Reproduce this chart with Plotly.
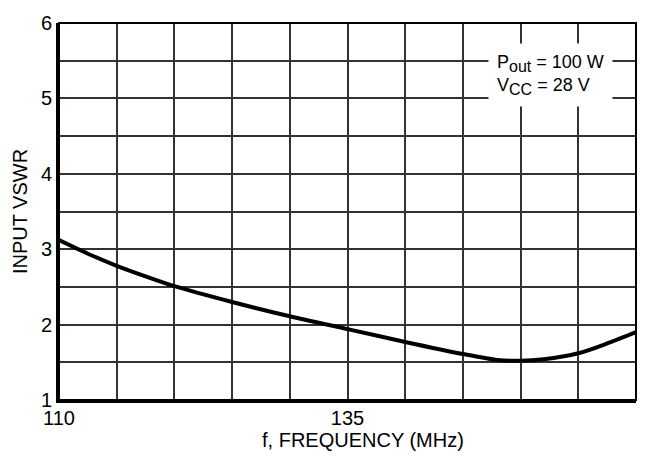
import plotly.graph_objects as go

# Data
freq_mhz = [110, 112.5, 115, 117.5, 120, 125, 130, 135, 140, 145, 148, 150, 152, 155, 157.5, 160]
input_vswr = [3.12, 2.94, 2.78, 2.64, 2.51, 2.30, 2.11, 1.94, 1.77, 1.61, 1.53, 1.52, 1.54, 1.62, 1.75, 1.90]

x_tickvals = [110, 115, 120, 125, 130, 135, 140, 145, 150, 155, 160]
x_ticktext = ["110", "", "", "", "", "135", "", "", "", "", "160"]
y_tickvals = [1, 1.5, 2, 2.5, 3, 3.5, 4, 4.5, 5, 5.5, 6]
y_ticktext = ["1", "", "2", "", "3", "", "4", "", "5", "", "6"]

FONT = "Liberation Sans, Arial, sans-serif"
FS = 20

fig = go.Figure()
fig.add_trace(go.Scatter(
    x=freq_mhz, y=input_vswr, mode="lines",
    line=dict(color="black", width=4, shape="spline", smoothing=0.8),
    hoverinfo="skip", showlegend=False,
))

fig.update_layout(
    width=650, height=460,
    margin=dict(l=59, r=14, t=15, b=60),
    paper_bgcolor="white", plot_bgcolor="white",
    font=dict(family=FONT, size=FS, color="black"),
    xaxis=dict(
        range=[110, 160], tickvals=x_tickvals, ticktext=x_ticktext,
        showgrid=True, gridcolor="#333", gridwidth=1.5,
        showline=True, linecolor="black", linewidth=3,
        zeroline=False, ticks="", ticklabelstandoff=-2,
    ),
    yaxis=dict(
        range=[1, 6], tickvals=y_tickvals, ticktext=y_ticktext,
        showgrid=True, gridcolor="#333", gridwidth=1.5,
        showline=True, linecolor="black", linewidth=3,
        zeroline=False, ticks="", ticklabelstandoff=0,
        title=dict(text="INPUT VSWR", font=dict(size=FS), standoff=8),
    ),
    shapes=[dict(type="rect", xref="paper", yref="paper", x0=0, x1=1, y0=0, y1=1,
                 line=dict(color="black", width=2), layer="above")],
    annotations=[
        dict(
            xref="paper", yref="paper", x=0.851, y=0.862, xanchor="center", yanchor="middle",
            text=("P<sub><span style='font-size:16px'>out</span></sub> = 100 W<br>"
                  "V<sub><span style='font-size:16px'>CC</span></sub> = 28 V"),
            showarrow=False, align="left", bgcolor="white", borderpad=8,
            font=dict(family=FONT, size=18, color="black"),
        ),
        dict(
            xref="paper", yref="paper", x=0.527, y=-0.106, xanchor="center", yanchor="middle",
            text="f, FREQUENCY (MHz)", showarrow=False,
            font=dict(family=FONT, size=FS, color="black"),
        ),
    ],
)

fig.write_html("out.html")
